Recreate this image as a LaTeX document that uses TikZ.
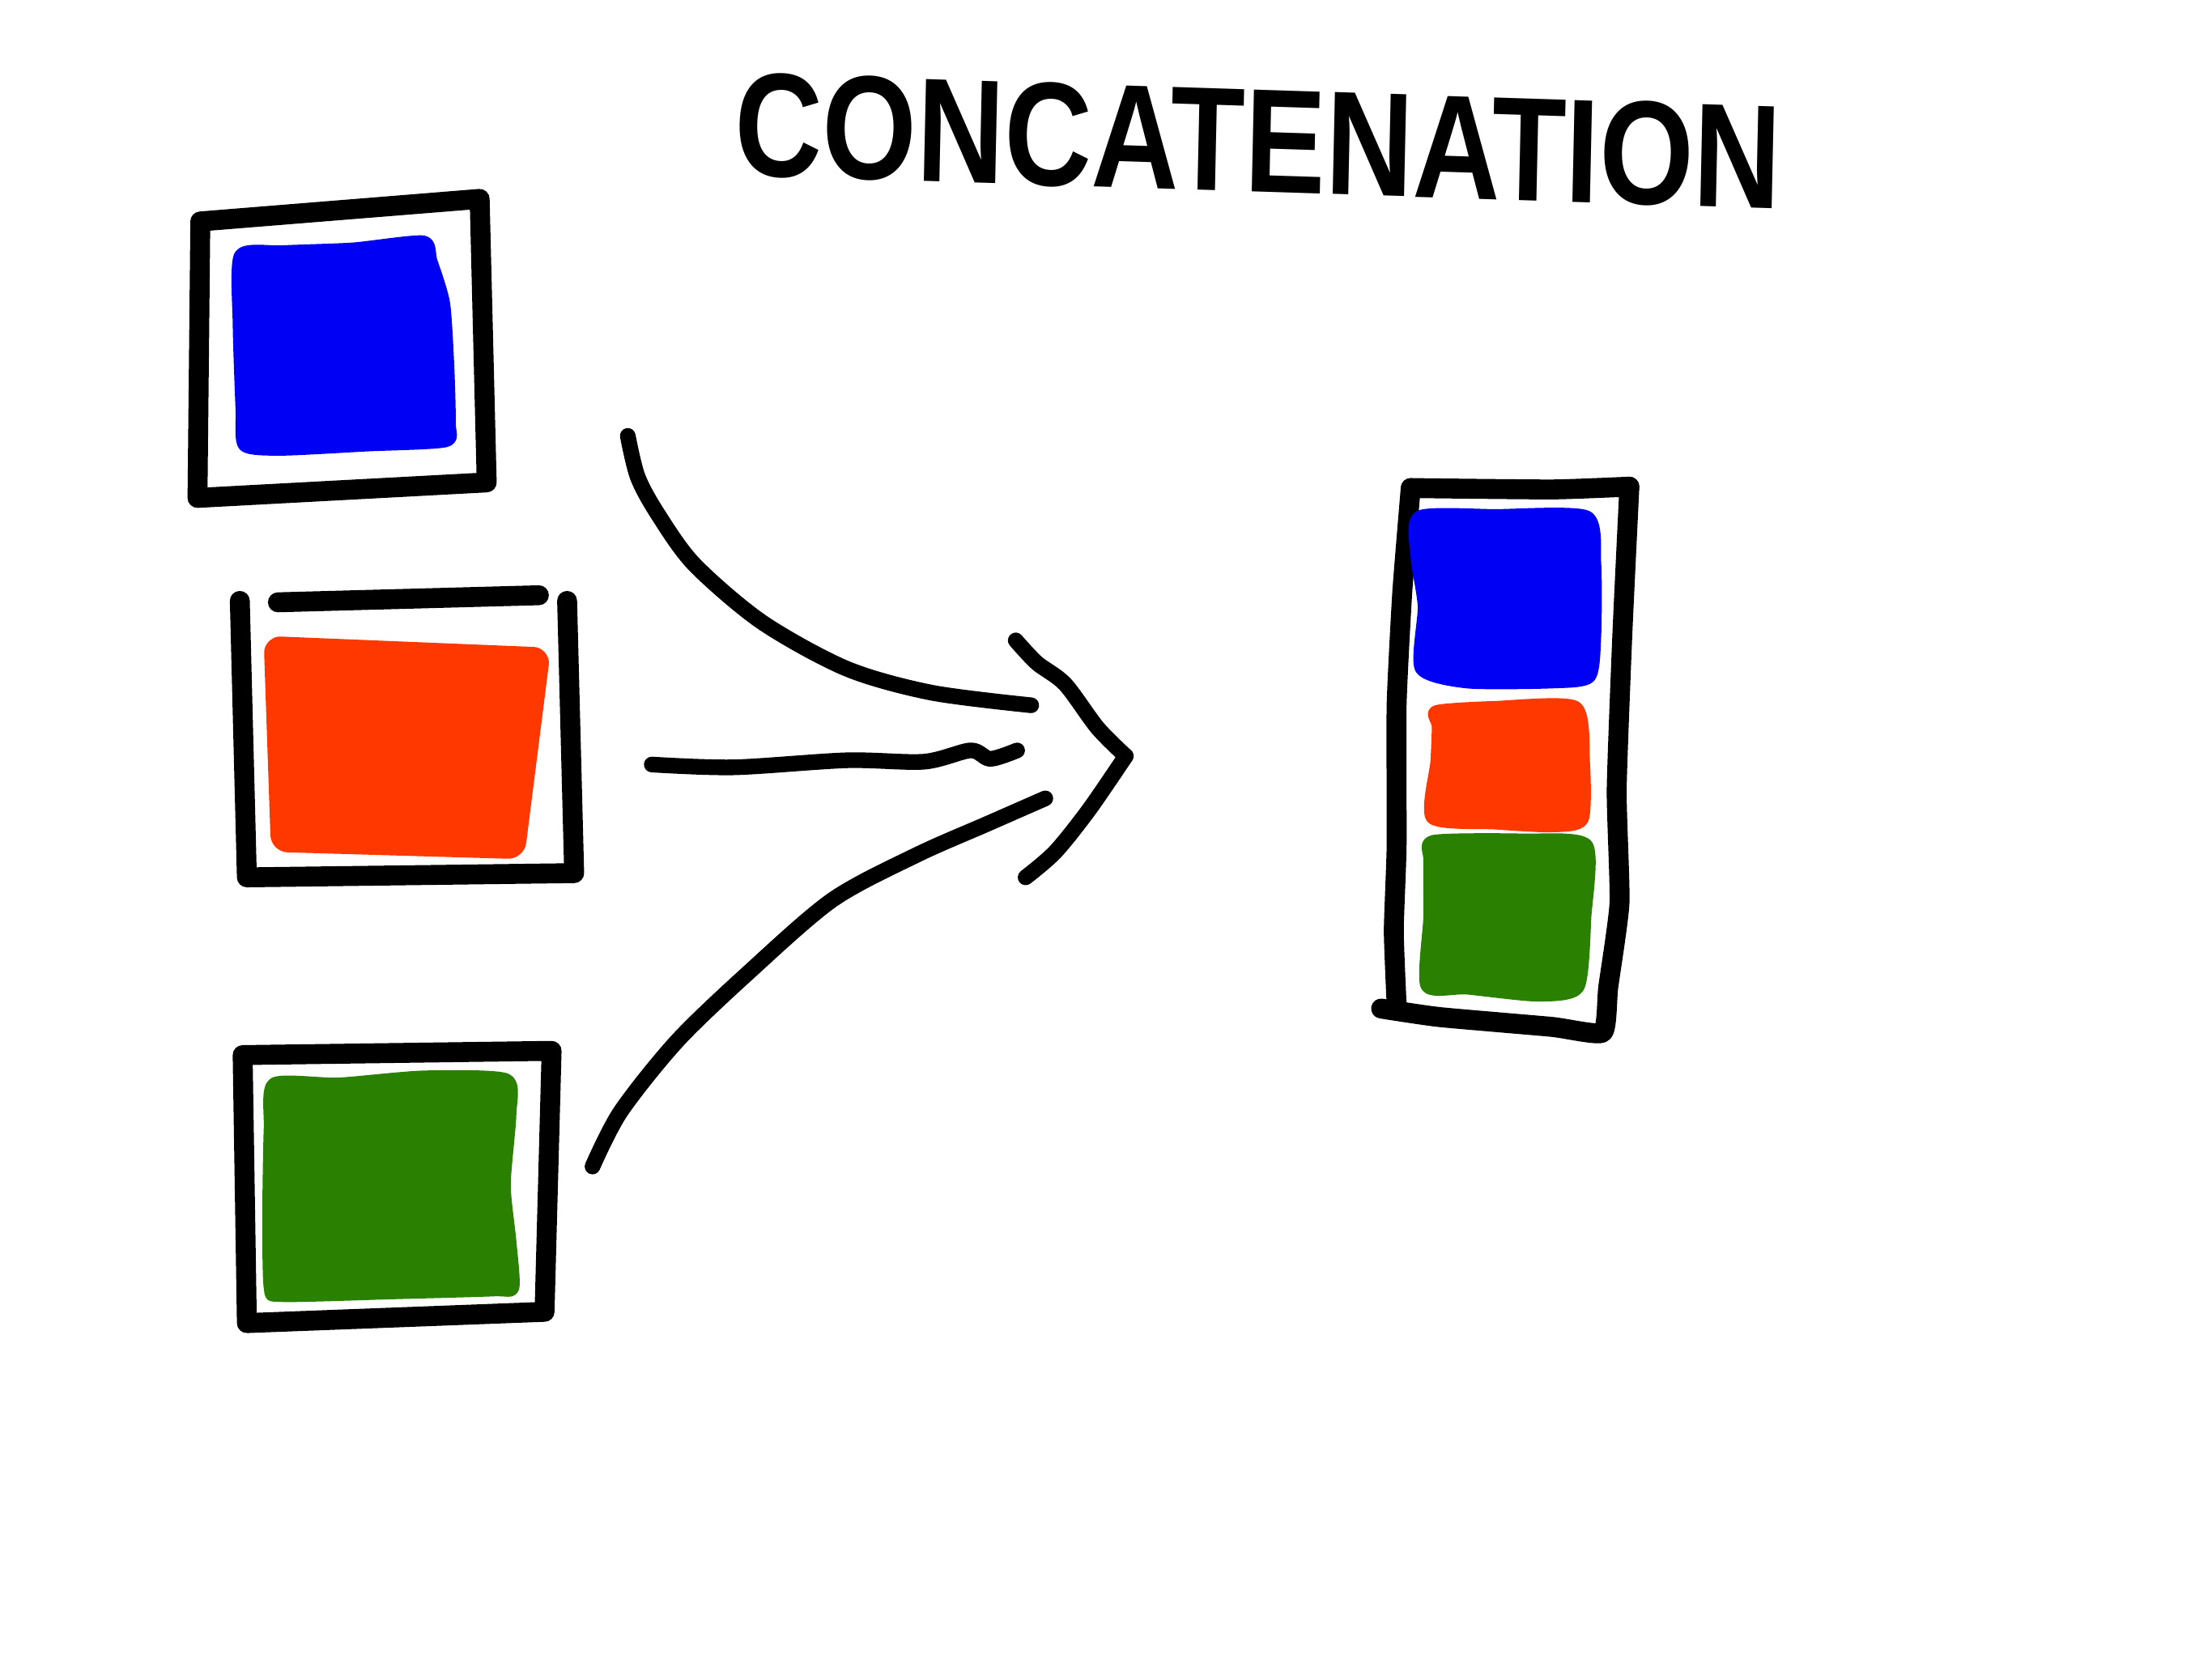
\documentclass[tikz,border=0pt]{standalone}
\usepackage{fontspec}
\setmainfont{Liberation Sans}
\usepackage{tikz}
\usetikzlibrary{calc, positioning}

\definecolor{penblue}{RGB}{0,0,245}
\definecolor{penorange}{RGB}{255,56,0}
\definecolor{pengreen}{RGB}{42,128,0}

\tikzset{
    ink/.style={line width=7pt, line cap=round, line join=round},
    stroke/.style={line width=5.5pt, line cap=round, line join=round},
    blob/.style={draw=#1, fill=#1, line width=4pt, line join=round},
}

\begin{document}
\begin{tikzpicture}[x=0.017423cm, y=-0.017423cm]
    \useasboundingbox (0,0) rectangle (1568,1175);

    % 1. Tiêu đề
    \node[font=\fontsize{52}{52}\selectfont\bfseries, xscale=0.82, rotate=-1.5, inner sep=0] (title) at (892,100) {CONCATENATION};

    % 2. Ba khối bên trái
    \draw[ink] (142,157) -- (340,141) -- (345,342) -- (140,353) -- cycle;
    \draw[blob=penblue] plot[smooth cycle, tension=0.4] coordinates {
        (170,181) (200,178) (250,176) (300,171) (306,185) (315,215) (318,260)
        (319,300) (316,313) (260,316) (200,319) (173,316) (171,290) (169,230)};

    \draw[ink] (170,426) -- (175,622) -- (407,619) -- (402,426);
    \draw[ink] (197,427) -- (382,422);
    \draw[blob=penorange, rounded corners=4pt] (191,455) -- (386,463) -- (368,605) -- (196,600) -- cycle;

    \draw[ink] (172,748) -- (391,745) -- (386,930) -- (175,938) -- cycle;
    \draw[blob=pengreen] plot[smooth cycle, tension=0.4] coordinates {
        (194,768) (240,768) (300,763) (359,765) (362,790) (358,840) (362,880)
        (364,913) (350,915) (280,917) (200,919) (191,913) (190,860) (191,800)};

    % 3. Mũi tên gom
    \coordinate (tip) at (798,536);
    \draw[stroke] plot[smooth, tension=0.5] coordinates {
        (445,309) (452,338) (466,364) (492,400) (540,441) (600,474) (660,491) (731,500)};
    \draw[stroke] plot[smooth, tension=0.5] coordinates {
        (462,542) (520,544) (600,539) (655,540) (688,532) (702,538) (721,532)};
    \draw[stroke] plot[smooth, tension=0.5] coordinates {
        (420,827) (440,788) (480,738) (530,690) (590,638) (650,606) (700,584) (741,566)};
    \draw[stroke] plot[smooth, tension=0.5] coordinates {
        (720,454) (735,470) (755,485) (778,516) (tip)};
    \draw[stroke] plot[smooth, tension=0.5] coordinates {
        (tip) (772,574) (748,604) (727,622)};

    % 4. Khối ghép bên phải
    \draw[ink] plot[smooth, tension=0.3] coordinates {
        (979,715) (1020,721) (1100,728) (1136,732) (1140,700) (1148,640)
        (1146,560) (1150,450) (1155,345)};
    \draw[ink] plot[smooth, tension=0.3] coordinates {
        (1155,345) (1100,347) (1000,346)};
    \draw[ink] plot[smooth, tension=0.3] coordinates {
        (1000,346) (994,420) (990,500) (990,600) (988,660) (990,712)};
    \draw[blob=penblue] plot[smooth cycle, tension=0.4] coordinates {
        (1006,366) (1060,365) (1125,366) (1131,400) (1131,450) (1127,480)
        (1100,484) (1040,484) (1007,474) (1009,430) (1004,395)};
    \draw[blob=penorange] plot[smooth cycle, tension=0.4] coordinates {
        (1018,504) (1060,501) (1117,501) (1123,540) (1122,581) (1100,586)
        (1060,584) (1015,580) (1018,540) (1019,515)};
    \draw[blob=pengreen] plot[smooth cycle, tension=0.4] coordinates {
        (1016,596) (1080,595) (1125,599) (1124,650) (1119,700) (1090,706)
        (1040,701) (1011,699) (1013,650) (1013,610)};
\end{tikzpicture}
\end{document}
